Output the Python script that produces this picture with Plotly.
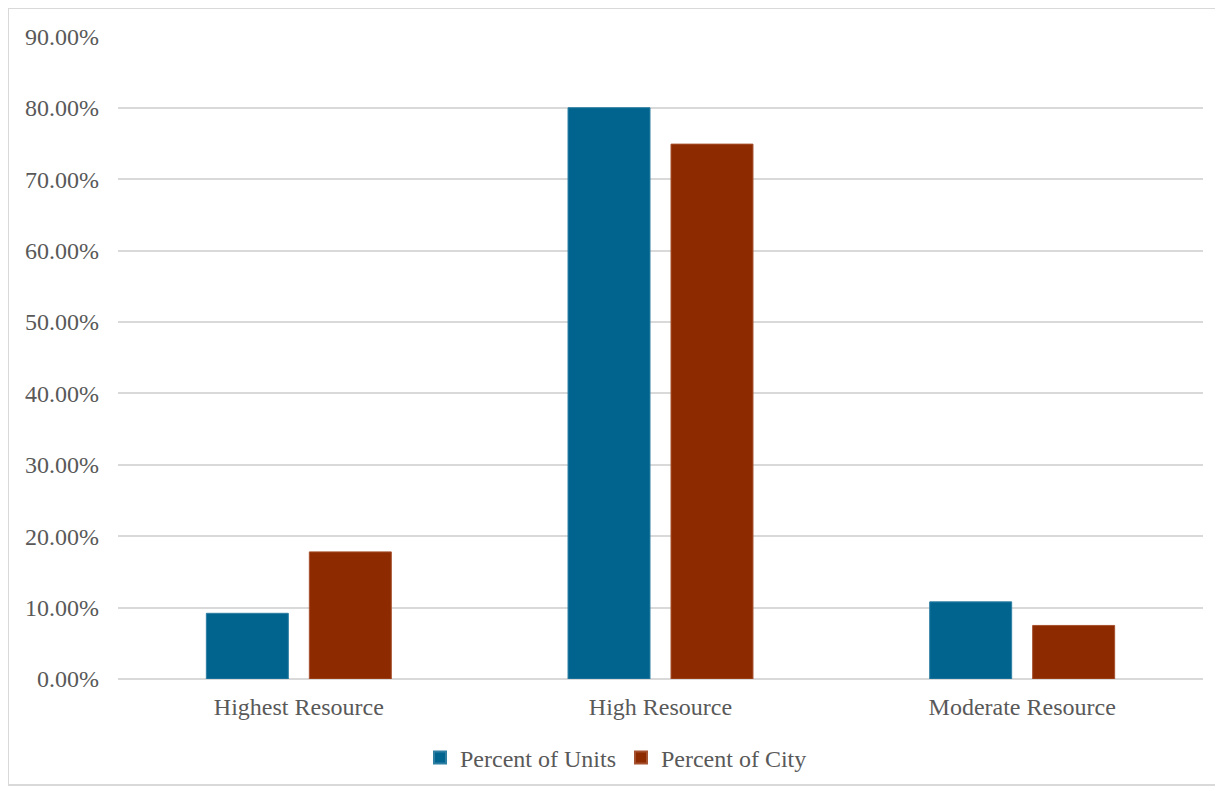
import plotly.graph_objects as go

categories = ["Highest Resource", "High Resource", "Moderate Resource"]
percent_of_units = [0.092, 0.800, 0.108]
percent_of_city = [0.178, 0.749, 0.075]
series_names = ["Percent of Units", "Percent of City"]

FONT = "Liberation Serif, Times New Roman, serif"
GRAY = "#595959"

fig = go.Figure()
fig.add_trace(go.Bar(x=categories, y=percent_of_units, name=series_names[0],
                     marker=dict(color="#00648F", line=dict(color="#2F7FA3", width=1))))
fig.add_trace(go.Bar(x=categories, y=percent_of_city, name=series_names[1],
                     marker=dict(color="#8E2A00", line=dict(color="#A5502E", width=1))))

OFF = 8  # page body margin
W, H = 1223 - OFF, 791 - OFF
L, T = 118 - OFF, 36 - OFF
pw, ph = 1085, 643
R, B = W - L - pw, H - T - ph

def px_x(x):
    return (x - OFF - L) / pw

def px_y(y):
    return (T + ph - (y - OFF)) / ph

fig.update_layout(
    width=W, height=H,
    margin=dict(l=L, r=R, t=T, b=B, autoexpand=False),
    paper_bgcolor="white", plot_bgcolor="white",
    font=dict(family=FONT, size=24, color=GRAY),
    barmode="group", bargap=0.4305, bargroupgap=0.204,
    showlegend=True,
    legend=dict(orientation="h", x=px_x(616), xanchor="center",
                y=px_y(758), yanchor="middle",
                font=dict(family=FONT, size=24, color=GRAY),
                itemsizing="constant", tracegroupgap=0),
    shapes=[dict(type="rect", xref="paper", yref="paper",
                 x0=px_x(8), x1=px_x(1216), y0=px_y(785), y1=px_y(8),
                 line=dict(color="#D9D9D9", width=2), layer="below")],
)
fig.update_xaxes(showgrid=False, showline=False, ticks="",
                 tickfont=dict(family=FONT, size=24, color=GRAY),
                 ticklabelstandoff=11)
fig.update_yaxes(range=[0, 0.9004], dtick=0.1, tick0=0, tickformat=".2%",
                 showgrid=True, gridcolor="#D9D9D9", gridwidth=1.5,
                 zeroline=True, zerolinecolor="#D9D9D9", zerolinewidth=1.5,
                 showline=False, ticks="",
                 tickfont=dict(family=FONT, size=24, color=GRAY),
                 ticklabelstandoff=18)

fig.write_html("out.html")
